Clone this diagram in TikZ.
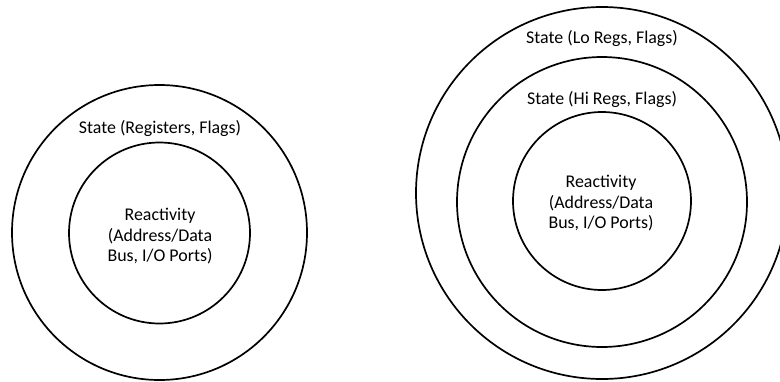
\documentclass[tikz,border=0pt]{standalone}
\usepackage{fontspec}
\setmainfont{Carlito}
\begin{document}
\begin{tikzpicture}[x=1pt,y=-1pt,
  ring/.style={circle,draw=black,line width=1.7pt,inner sep=0pt,fill=none},
  lbl/.style={font=\fontsize{17.9}{20.5}\selectfont,inner sep=0pt,align=center,text=black}]
\useasboundingbox (0,0) rectangle (780,381);
\clip (0,0) rectangle (780,381);
% left diagram
\node[ring,minimum size=295pt] (Lout) at (159.5,232.5) {};
\node[ring,minimum size=181pt] (Lin) at (159.5,233) {};
\node[lbl,anchor=base] (Lstate) at (160,133) {State (Registers, Flags)};
\node[lbl] (Lreact) at (160,236.5) {Reactivity\\(Address/Data\\Bus, I/O Ports)};
% right diagram
\node[ring,minimum size=372pt] (Rout) at (602,193) {};
\node[ring,minimum size=290pt] (Rmid) at (602,202) {};
\node[ring,minimum size=178pt] (Rin) at (602,201) {};
\node[lbl,anchor=base] (Rlo) at (602,43) {State (Lo Regs, Flags)};
\node[lbl,anchor=base] (Rhi) at (602,104) {State (Hi Regs, Flags)};
\node[lbl] (Rreact) at (601,203.5) {Reactivity\\(Address/Data\\Bus, I/O Ports)};
\end{tikzpicture}
\end{document}
